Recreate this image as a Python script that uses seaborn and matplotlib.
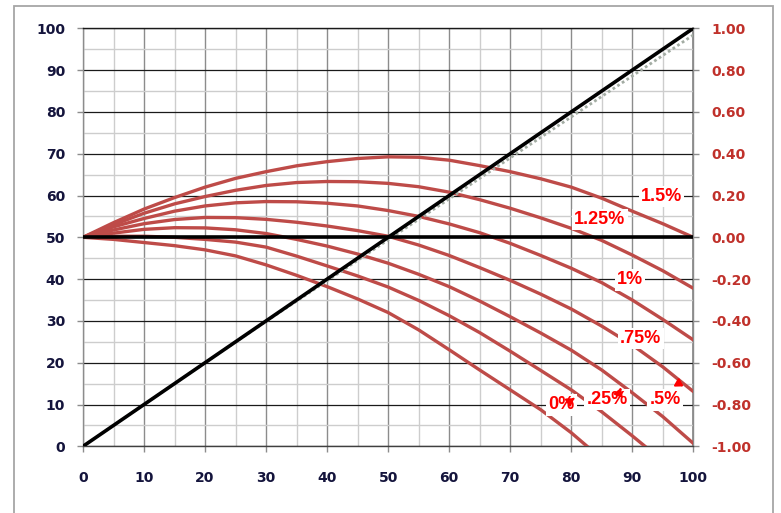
import numpy as np
import pandas as pd
import matplotlib
matplotlib.use("Agg")
import matplotlib.pyplot as plt
from matplotlib.patches import Rectangle
from matplotlib.ticker import FuncFormatter, MultipleLocator
import seaborn as sns

# ---------------- data ----------------
x_vals = [0, 5, 10, 15, 20, 25, 30, 35, 40, 45, 50, 55, 60, 65, 70, 75, 80, 85, 90, 95, 100]
rate_labels = ["1.5%", "1.25%", "1%", ".75%", ".5%", ".25%", "0%"]
c150 = [0, .07, .135, .19, .24, .282, .314, .342, .362, .377, .385, .383, .369, .343, .314, .28, .24, .187, .125, .065, 0]
c125 = [0, .06, .115, .16, .195, .225, .248, .262, .267, .266, .258, .242, .216, .18, .139, .093, .043, -.015, -.085, -.16, -.244]
c100 = [0, .05, .09, .125, .15, .165, .171, .17, .163, .15, .128, .1, .064, .022, -.029, -.087, -.148, -.217, -.30, -.393, -.491]
c075 = [0, .035, .065, .085, .095, .094, .086, .072, .054, .032, .005, -.037, -.087, -.145, -.206, -.272, -.343, -.425, -.515, -.62, -.738]
c050 = [0, .02, .038, .046, .045, .036, .018, -.01, -.042, -.08, -.124, -.177, -.236, -.305, -.38, -.458, -.54, -.635, -.744, -.858, -.986]
c025 = [0, .005, .005, 0, -.01, -.023, -.047, -.09, -.137, -.185, -.238, -.302, -.375, -.456, -.545, -.637, -.73, -.835, -.95, -1.07, -1.2]
c000 = [0, -.01, -.025, -.04, -.06, -.089, -.132, -.182, -.236, -.295, -.36, -.443, -.538, -.635, -.73, -.825, -.935, -1.06, -1.2, -1.35, -1.5]
curves = [c150, c125, c100, c075, c050, c025, c000]

diag_x = [0, 100]
diag_y = [0, 100]
ref_x = [0, 10, 20, 30, 40, 50, 60, 70, 80, 90, 100]
ref_y = [0, 10, 20, 29.9, 39.6, 49.4, 59.2, 69.0, 78.8, 88.6, 98.4]
zero_line = 50

left_ticks = list(range(0, 101, 10))
x_ticks = list(range(0, 101, 10))
right_ticks = [-1.0, -0.8, -0.6, -0.4, -0.2, 0.0, 0.2, 0.4, 0.6, 0.8, 1.0]

# label positions (x, left-axis value)
label_pos = {"1.5%": (94.8, 59.7), "1.25%": (84.7, 54.3), "1%": (89.6, 39.8),
             ".75%": (91.4, 25.8), "0%": (78.4, 9.9), ".25%": (85.9, 11.2), ".5%": (95.4, 11.1)}

# ---------------- style ----------------
sns.set_theme(style="white")
plt.rcParams['font.family'] = ['DejaVu Sans']

RED_LINE = "#BE4B48"
RED_TXT = "#FF0000"
RED_AX = "#C0312B"
NAVY = "#14143c"

to_r = lambda l: (np.asarray(l) - 50.0) / 50.0
to_l = lambda r: 50.0 + 50.0 * np.asarray(r)

rows = []
for lab, vals in zip(rate_labels, curves):
    for xv, rv in zip(x_vals, vals):
        rows.append({"x": xv, "L": float(to_l(rv)), "rate": lab})
df = pd.DataFrame(rows)

fig = plt.figure(figsize=(7.81, 5.13), dpi=100)
ax = fig.add_axes([83 / 781, 1 - 446.3 / 513, (693.3 - 83) / 781, (446.3 - 28.3) / 513])

sns.lineplot(data=df, x="x", y="L", hue="rate", palette={k: RED_LINE for k in rate_labels},
             legend=False, linewidth=2.4, ax=ax, zorder=3)
sns.lineplot(x=ref_x, y=ref_y, color="#a3aca3", linewidth=2.0, linestyle=(0, (1, 1)), ax=ax, zorder=4)
sns.lineplot(x=diag_x, y=diag_y, color="black", linewidth=2.6, ax=ax, zorder=5)
ax.axhline(zero_line, color="black", linewidth=2.6, zorder=4)

ax.set_xlim(0, 100)
ax.set_ylim(0, 100)
ax.set_xlabel("")
ax.set_ylabel("")
ax.set_xticks(x_ticks)
ax.set_yticks(left_ticks)
ax.xaxis.set_minor_locator(MultipleLocator(5))
ax.yaxis.set_minor_locator(MultipleLocator(5))
ax.set_axisbelow(True)
ax.grid(which="minor", axis="both", color="#cdcdcd", linewidth=1.0)
ax.grid(which="major", axis="x", color="#8c8c8c", linewidth=1.0)
ax.grid(which="major", axis="y", color="#1a1a1a", linewidth=0.9)

ax.tick_params(which="minor", length=0)
ax.tick_params(axis="x", which="major", direction="out", length=4.5, width=1, color="#8c8c8c",
               pad=13.5, labelsize=10, labelcolor=NAVY, bottom=True)
ax.tick_params(axis="y", which="major", direction="out", length=4.5, width=1, color="#8c8c8c",
               pad=8.4, labelsize=10, labelcolor=NAVY, left=True)
for t in ax.get_xticklabels() + ax.get_yticklabels():
    t.set_fontweight("bold")

for side in ["left", "right"]:
    ax.spines[side].set_color("#8c8c8c")
ax.spines["bottom"].set_color("#404040")
ax.spines["top"].set_color("#1a1a1a")
for s in ax.spines.values():
    s.set_linewidth(1.0)

sec = ax.secondary_yaxis("right", functions=(to_r, to_l))
sec.set_yticks(right_ticks)
sec.yaxis.set_major_formatter(FuncFormatter(lambda v, p: f"{0.0 if abs(v) < 1e-9 else v:.2f}"))
sec.tick_params(direction="out", length=4.5, width=1, color="#8c8c8c", pad=8.7,
                labelsize=10, labelcolor=RED_AX)
sec.spines["right"].set_color("#8c8c8c")
for t in sec.get_yticklabels():
    t.set_fontweight("bold")

for lab, (lx, ly) in label_pos.items():
    ax.text(lx, ly, lab, color=RED_TXT, fontsize=13, fontweight="bold", family=["Liberation Sans", "DejaVu Sans"],
            ha="center", va="center", zorder=6,
            bbox=dict(boxstyle="square,pad=0.12", facecolor="white", edgecolor="none"))

# small leader marks
leaders = [((80.0, 11.0), (80.9, 11.9)), ((87.9, 13.0), (88.3, 14.6)), ((97.4, 15.2), (98.8, 14.0))]
for (x0, y0), (x1, y1) in leaders:
    ax.annotate("", xy=(x1, y1), xytext=(x0, y0), zorder=7,
                arrowprops=dict(arrowstyle="-|>,head_length=0.35,head_width=0.22", color=RED_TXT, lw=1.5))

fig.patches.append(Rectangle((14 / 781, -0.02), (773 - 14) / 781, 1.02 - 6 / 513,
                             transform=fig.transFigure, fill=False, edgecolor="#a6a6a6", linewidth=1.3))

fig.savefig("out.png", dpi=100, facecolor="white")
